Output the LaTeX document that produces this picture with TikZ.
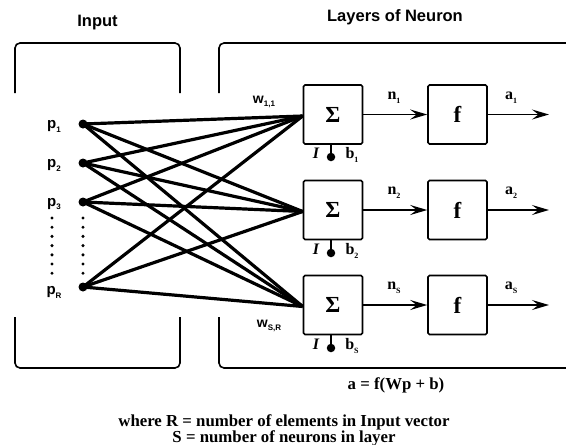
\documentclass[tikz,border=0pt]{standalone}
\usepackage{fontspec}
\setmainfont{Liberation Serif}
\setsansfont{Liberation Sans}
\usetikzlibrary{arrows.meta}
\newcommand\lowsub[1]{\raisebox{-0.5ex}{\fontsize{8}{8}\selectfont #1}}
\begin{document}
\begin{tikzpicture}[x=1pt,y=-1pt,
  frame/.style={line width=1.6pt, rounded corners=5pt},
  blk/.style={draw, line width=1.6pt, rounded corners=1.5pt, minimum width=59pt, minimum height=59pt, inner sep=0pt, font=\bfseries\fontsize{23}{23}\selectfont},
  pdot/.style={circle, fill, inner sep=0pt, minimum size=9pt},
  bdot/.style={circle, fill, inner sep=0pt, minimum size=8.5pt},
  smalldot/.style={circle, fill, inner sep=0pt, minimum size=3.4pt},
  wire/.style={line width=3.2pt},
  stem/.style={line width=2.8pt},
  arr/.style={line width=1.6pt, -{Stealth[length=17pt,width=10pt,inset=6.5pt]}},
  title/.style={font=\sffamily\bfseries\fontsize{16.5}{18}\selectfont},
  plab/.style={font=\sffamily\bfseries\fontsize{15}{15}\selectfont},
  wlab/.style={font=\sffamily\bfseries\fontsize{14}{14}\selectfont},
  slab/.style={font=\bfseries\fontsize{16}{16}\selectfont},
  note/.style={font=\bfseries\fontsize{16.8}{15.5}\selectfont, align=center}
]
\useasboundingbox (0,0) rectangle (566,445);

% titles
\node[title] (tin) at (97.5,23) {Input};
\node[title] (tly) at (395,17) {Layers of Neuron};

% frames
\draw[frame] (15,93) -- (15,43) -- (180,43) -- (180,93);
\draw[frame] (15,317) -- (15,368) -- (180,368) -- (180,317);
\draw[frame] (219,93) -- (219,43) -- (572,43);
\draw[frame] (219,317) -- (219,368) -- (572,368);

% input dots
\node[pdot] (p1) at (83,124) {};
\node[pdot] (p2) at (83,163) {};
\node[pdot] (p3) at (83,202) {};
\node[pdot] (pR) at (83,287) {};
\node[plab] (lp1) at (54,126) {p\lowsub{1}};
\node[plab] (lp2) at (54,165) {p\lowsub{2}};
\node[plab] (lp3) at (54,204) {p\lowsub{3}};
\node[plab] (lpR) at (54,292) {p\lowsub{R}};
\foreach \k in {0,...,6} {
  \node[smalldot] (dl\k) at (52,218+9.2*\k) {};
  \node[smalldot] (dr\k) at (83,218+9.2*\k) {};
}

% blocks
\node[blk] (s1) at (333,114.5) {Σ};
\node[blk] (s2) at (333,210) {Σ};
\node[blk] (s3) at (333,305) {Σ};
\node[blk] (f1) at (457.5,114.5) {f};
\node[blk] (f2) at (457.5,210) {f};
\node[blk] (f3) at (457.5,305) {f};

% wires
\foreach \p in {p1,p2,p3,pR} {
  \foreach \s in {s1,s2,s3} {
    \draw[wire] (\p.center) -- ([yshift=-1.5pt]\s.west);
  }
}

% weight labels
\node[wlab] (w11) at (264,102) {w\lowsub{1,1}};
\node[wlab] (wSR) at (269,326) {w\lowsub{S,R}};

% arrows
\coordinate (o1) at (549,114.5);
\coordinate (o2) at (549,210);
\coordinate (o3) at (549,305);
\draw[arr] (s1) -- (f1);
\draw[arr] (s2) -- (f2);
\draw[arr] (s3) -- (f3);
\draw[arr] (f1) -- (o1);
\draw[arr] (f2) -- (o2);
\draw[arr] (f3) -- (o3);
\node[slab] (n1) at (394,98) {n\lowsub{1}};
\node[slab] (n2) at (394,193) {n\lowsub{2}};
\node[slab] (n3) at (394,288) {n\lowsub{S}};
\node[slab] (a1) at (511,98) {a\lowsub{1}};
\node[slab] (a2) at (511,193) {a\lowsub{2}};
\node[slab] (a3) at (511,288) {a\lowsub{S}};

% biases
\node[bdot] (b1) at (331,157) {};
\node[bdot] (b2) at (331,253) {};
\node[bdot] (b3) at (331,348) {};
\draw[stem] (s1.south -| b1) -- (b1.center);
\draw[stem] (s2.south -| b2) -- (b2.center);
\draw[stem] (s3.south -| b3) -- (b3.center);
\node[slab] (i1) at (316,153) {\itshape I};
\node[slab] (i2) at (316,249) {\itshape I};
\node[slab] (i3) at (316,344) {\itshape I};
\node[slab] (lb1) at (352,155) {b\lowsub{1}};
\node[slab] (lb2) at (352,251) {b\lowsub{2}};
\node[slab] (lb3) at (352,346) {b\lowsub{S}};

% formula and notes
\node[note] (eq) at (396,385) {a = f(Wp + b)};
\node[note] (nt) at (284,430.5) {where R = number of elements in Input vector\\S = number of neurons in layer};
\end{tikzpicture}
\end{document}
